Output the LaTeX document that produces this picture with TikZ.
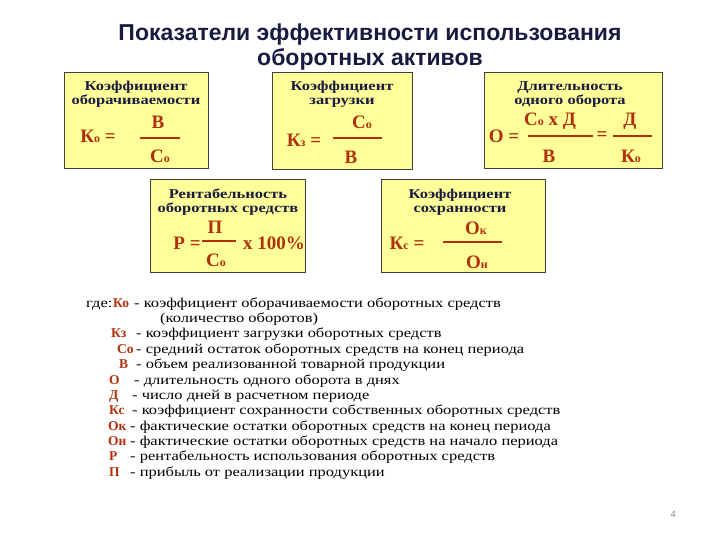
\documentclass[tikz,border=0pt]{standalone}
\usepackage{fontspec}
\setmainfont{Liberation Serif}
\newfontfamily\wideserif[FakeStretch=1.22]{Liberation Serif}
\newfontfamily\titlefont{Liberation Sans}
\definecolor{boxfill}{HTML}{FFFF99}
\definecolor{boxline}{HTML}{404040}
\definecolor{navy}{HTML}{1A1A40}
\definecolor{fred}{HTML}{B0300C}
\begin{document}
\begin{tikzpicture}[x=1pt,y=-1pt,
  bx/.style={fill=boxfill,draw=boxline,line width=1pt},
  ttl/.style={text=navy,font=\wideserif\bfseries\fontsize{13.5}{14}\selectfont,align=center,inner sep=0pt},
  fm/.style={text=fred,font=\bfseries\fontsize{19}{19}\selectfont,inner sep=0pt},
  fl/.style={draw=fred,line width=1.6pt},
  lg/.style={font=\wideserif\fontsize{13.5}{13.5}\selectfont,anchor=base west,inner sep=0pt},
  sy/.style={text=fred,font=\bfseries\fontsize{13.5}{13.5}\selectfont,anchor=base west,inner sep=0pt}]
\useasboundingbox (0,0) rectangle (720,540);
\newcommand\sbo[1]{{\fontsize{12}{12}\selectfont #1}}
\node[text=navy,font=\titlefont\bfseries\fontsize{23}{25}\selectfont,align=center] (title) at (370,47) {Показатели эффективности использования\\оборотных активов};
% box 1
\draw[bx] (64,73) rectangle (208,169);
\node[ttl] (t1) at (136,94) {Коэффициент\\оборачиваемости};
\node[fm] (k1) at (98,136) {К\sbo{о} =};
\node[fm] (n1) at (158,122) {В};
\coordinate (l1a) at (140,138); \coordinate (l1b) at (180,138);
\draw[fl] (l1a) -- (l1b);
\node[fm] (d1) at (160,156) {С\sbo{о}};
% box 2
\draw[bx] (272,73) rectangle (412,170);
\node[ttl] (t2) at (342,94) {Коэффициент\\загрузки};
\node[fm] (k2) at (304,140) {К\sbo{з} =};
\node[fm] (n2) at (362,122) {С\sbo{о}};
\coordinate (l2a) at (333,138); \coordinate (l2b) at (382,138);
\draw[fl] (l2a) -- (l2b);
\node[fm] (d2) at (351,157) {В};
% box 3
\draw[bx] (484,73) rectangle (662,169);
\node[ttl] (t3) at (570,95) {Длительность\\одного оборота};
\node[fm] (k3) at (504,136) {О =};
\node[fm] (n3) at (550,121) {С\sbo{о} х Д};
\coordinate (l3a) at (528,136); \coordinate (l3b) at (593,136);
\draw[fl] (l3a) -- (l3b);
\node[fm] (d3) at (549,156) {В};
\node[fm] (e3) at (602,136) {=};
\node[fm] (n3b) at (630,121) {Д};
\coordinate (l3c) at (613,136); \coordinate (l3d) at (652,136);
\draw[fl] (l3c) -- (l3d);
\node[fm] (d3b) at (631,156) {К\sbo{о}};
% box 4
\draw[bx] (150,180) rectangle (305,272);
\node[ttl] (t4) at (228,202) {Рентабельность\\оборотных средств};
\node[fm] (k4) at (187,243) {Р =};
\node[fm] (n4) at (215,227) {П};
\coordinate (l4a) at (202,241); \coordinate (l4b) at (236,241);
\draw[fl] (l4a) -- (l4b);
\node[fm] (d4) at (216,260) {С\sbo{о}};
\node[fm] (x4) at (274,243) {х 100\%};
% box 5
\draw[bx] (381,180) rectangle (545,272);
\node[ttl] (t5) at (460,202) {Коэффициент\\сохранности};
\node[fm] (k5) at (407,243) {К\sbo{с} =};
\node[fm] (n5) at (476,228) {О\sbo{к}};
\coordinate (l5a) at (443,242); \coordinate (l5b) at (502,242);
\draw[fl] (l5a) -- (l5b);
\node[fm] (d5) at (477,262) {О\sbo{н}};
% legend
\node[lg] (g0) at (86,307) {где:};
\node[sy] (s1) at (113,307) {Ко};
\node[lg] (g1) at (134,307) {- коэффициент оборачиваемости оборотных средств};
\node[lg] (g1b) at (160,322) {(количество оборотов)};
\node[sy] (s2) at (111,337) {Кз};
\node[lg] (g2) at (136,337) {- коэффициент загрузки оборотных средств};
\node[sy] (s3) at (117,353) {Со};
\node[lg] (g3) at (136,353) {- средний остаток оборотных средств на конец периода};
\node[sy] (s4) at (119,368) {В};
\node[lg] (g4) at (136,368) {- объем реализованной товарной продукции};
\node[sy] (s5) at (109,384) {О};
\node[lg] (g5) at (134,384) {- длительность одного оборота в днях};
\node[sy] (s6) at (109,399) {Д};
\node[lg] (g6) at (132,399) {- число дней в расчетном периоде};
\node[sy] (s7) at (109,414) {Кс};
\node[lg] (g7) at (132,414) {- коэффициент сохранности собственных оборотных средств};
\node[sy] (s8) at (108,430) {Ок};
\node[lg] (g8) at (130,430) {- фактические остатки оборотных средств на конец периода};
\node[sy] (s9) at (108,445) {Он};
\node[lg] (g9) at (130,445) {- фактические остатки оборотных средств на начало периода};
\node[sy] (s10) at (109,460) {Р};
\node[lg] (g10) at (130,460) {- рентабельность использования оборотных средств};
\node[sy] (s11) at (109,476) {П};
\node[lg] (g11) at (130,476) {- прибыль от реализации продукции};
\node[text=gray,font=\fontsize{10}{10}\selectfont] (pg) at (673,514) {4};
\end{tikzpicture}
\end{document}
